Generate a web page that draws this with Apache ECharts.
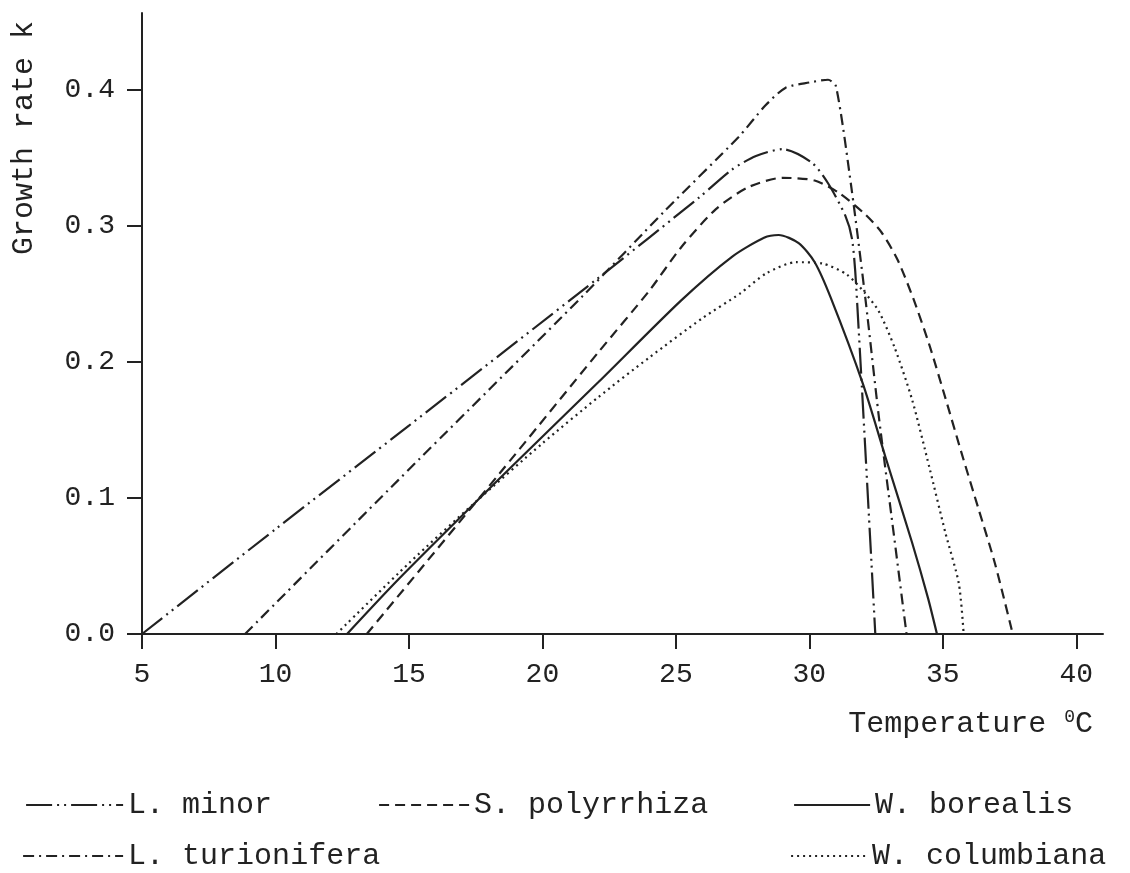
<!DOCTYPE html>
<html>
<head>
<meta charset="utf-8">
<script src="https://cdn.jsdelivr.net/npm/echarts@6/dist/echarts.min.js"></script>
<style>
html,body{margin:0;padding:0;background:#fff;}
#chart{width:1130px;height:873px;}
</style>
</head>
<body>
<div id="chart"></div>
<script>
// ---- Data (temperature °C, growth rate k) ----
const lMinor = [[5,0],[10,0.077],[15,0.153],[22,0.26],[25.9,0.321],[27.1,0.341],[28,0.351],[29,0.356],[30.1,0.346],[30.7,0.331],[31.35,0.307],[31.6,0.29],[31.75,0.257],[32.47,0]];
const lTurionifera = [[8.86,0],[14.6,0.113],[21.5,0.248],[24.6,0.311],[27.35,0.365],[28.35,0.388],[29.1,0.401],[30,0.405],[30.7,0.407],[31.0,0.402],[31.58,0.327],[32.1,0.246],[32.6,0.16],[33.08,0.086],[33.64,0]];
const sPolyrrhiza = [[13.42,0],[18.4,0.118],[22.1,0.207],[24,0.252],[25.2,0.284],[26.5,0.312],[27.7,0.328],[29,0.335],[30.2,0.333],[31.1,0.324],[32.1,0.308],[32.7,0.295],[33.3,0.275],[33.9,0.246],[34.5,0.212],[35.1,0.173],[35.7,0.133],[36.35,0.091],[36.95,0.052],[37.62,0]];
const wBorealis = [[12.68,0],[14.6,0.04],[18.7,0.12],[22.1,0.185],[25.2,0.245],[27.1,0.277],[28.3,0.291],[28.85,0.293],[29.6,0.287],[30.2,0.273],[30.8,0.247],[32,0.184],[32.85,0.13],[33.85,0.067],[34.45,0.026],[34.78,0]];
const wColumbiana = [[12.28,0],[15,0.052],[17.5,0.097],[20,0.14],[22.1,0.174],[24,0.203],[26,0.232],[27.4,0.25],[28.4,0.265],[29.5,0.273],[30.5,0.272],[31.4,0.264],[32.1,0.25],[32.6,0.237],[33.2,0.21],[33.85,0.172],[34.5,0.122],[35.1,0.074],[35.6,0.037],[35.78,0]];

const seriesNames = ['L. minor','L. turionifera','S. polyrrhiza','W. borealis','W. columbiana'];
const xTicks = [5,10,15,20,25,30,35,40];
const yTicks = [0,0.1,0.2,0.3,0.4];
const xAxisTitle = 'Temperature ';
const yAxisTitle = 'Growth rate k';

// ---- Styling ----
const INK = '#222';
const FONT = '"Liberation Mono", "DejaVu Sans Mono", monospace';
const dashes = {
  'L. minor': [26,5,2,5,2,5],
  'L. turionifera': [11,5,2,5],
  'S. polyrrhiza': [10,6],
  'W. borealis': 'solid',
  'W. columbiana': [2,4]
};
const dataByName = {
  'L. minor': lMinor,
  'L. turionifera': lTurionifera,
  'S. polyrrhiza': sPolyrrhiza,
  'W. borealis': wBorealis,
  'W. columbiana': wColumbiana
};
const legendPos = {
  'L. minor': {left: 25, top: 790, w: 97},
  'S. polyrrhiza': {left: 378, top: 790, w: 90},
  'W. borealis': {left: 793, top: 790, w: 76},
  'L. turionifera': {left: 22, top: 841, w: 100},
  'W. columbiana': {left: 790, top: 841, w: 76}
};

const chart = echarts.init(document.getElementById('chart'), null, {renderer: 'canvas'});

const option = {
  animation: false,
  backgroundColor: '#fff',
  grid: {left: 142, right: 27, top: 13, bottom: 239, containLabel: false, outerBoundsMode: 'none'},
  xAxis: {
    type: 'value', min: 5, max: 41,
    splitLine: {show: false},
    axisLine: {show: true, lineStyle: {color: INK, width: 2}},
    axisTick: {show: true, customValues: xTicks, length: 15, inside: false, lineStyle: {color: INK, width: 2}},
    axisLabel: {customValues: xTicks, margin: 27, color: INK, fontFamily: FONT, fontSize: 28}
  },
  yAxis: {
    type: 'value', min: 0, max: 0.456,
    splitLine: {show: false},
    axisLine: {show: true, lineStyle: {color: INK, width: 2}},
    axisTick: {show: true, customValues: yTicks, length: 15, lineStyle: {color: INK, width: 2}},
    axisLabel: {customValues: yTicks, margin: 27, color: INK, fontFamily: FONT, fontSize: 28,
      formatter: v => v.toFixed(1)}
  },
  legend: seriesNames.map(n => ({
    data: [n], left: legendPos[n].left, top: legendPos[n].top, padding: 0,
    itemWidth: legendPos[n].w, itemHeight: 14, itemGap: 0, selectedMode: false,
    itemStyle: {color: 'rgba(0,0,0,0)', borderWidth: 0, opacity: 0},
    lineStyle: {color: INK, width: 2.2},
    textStyle: {color: INK, fontFamily: FONT, fontSize: 30}
  })),
  series: seriesNames.map(n => ({
    name: n, type: 'line', data: dataByName[n], symbol: 'none', smooth: 0.25,
    clip: true,
    lineStyle: {color: INK, width: 2.2, type: dashes[n]},
    itemStyle: {color: INK},
    emphasis: {disabled: true}
  })),
  graphic: [
    {type: 'text', x: 1093, y: 724,
      style: {text: xAxisTitle + '{s|0}C', fill: INK, font: '30px ' + FONT, align: 'right', verticalAlign: 'middle',
        rich: {s: {fontSize: 18, fontFamily: FONT, fill: INK, padding: [0,0,14,0]}}}},
    {type: 'text', x: 24, y: 138, rotation: Math.PI/2,
      style: {text: yAxisTitle, fill: INK, font: '30px ' + FONT, align: 'center', verticalAlign: 'middle'}}
  ]
};
chart.setOption(option);
</script>
</body>
</html>
